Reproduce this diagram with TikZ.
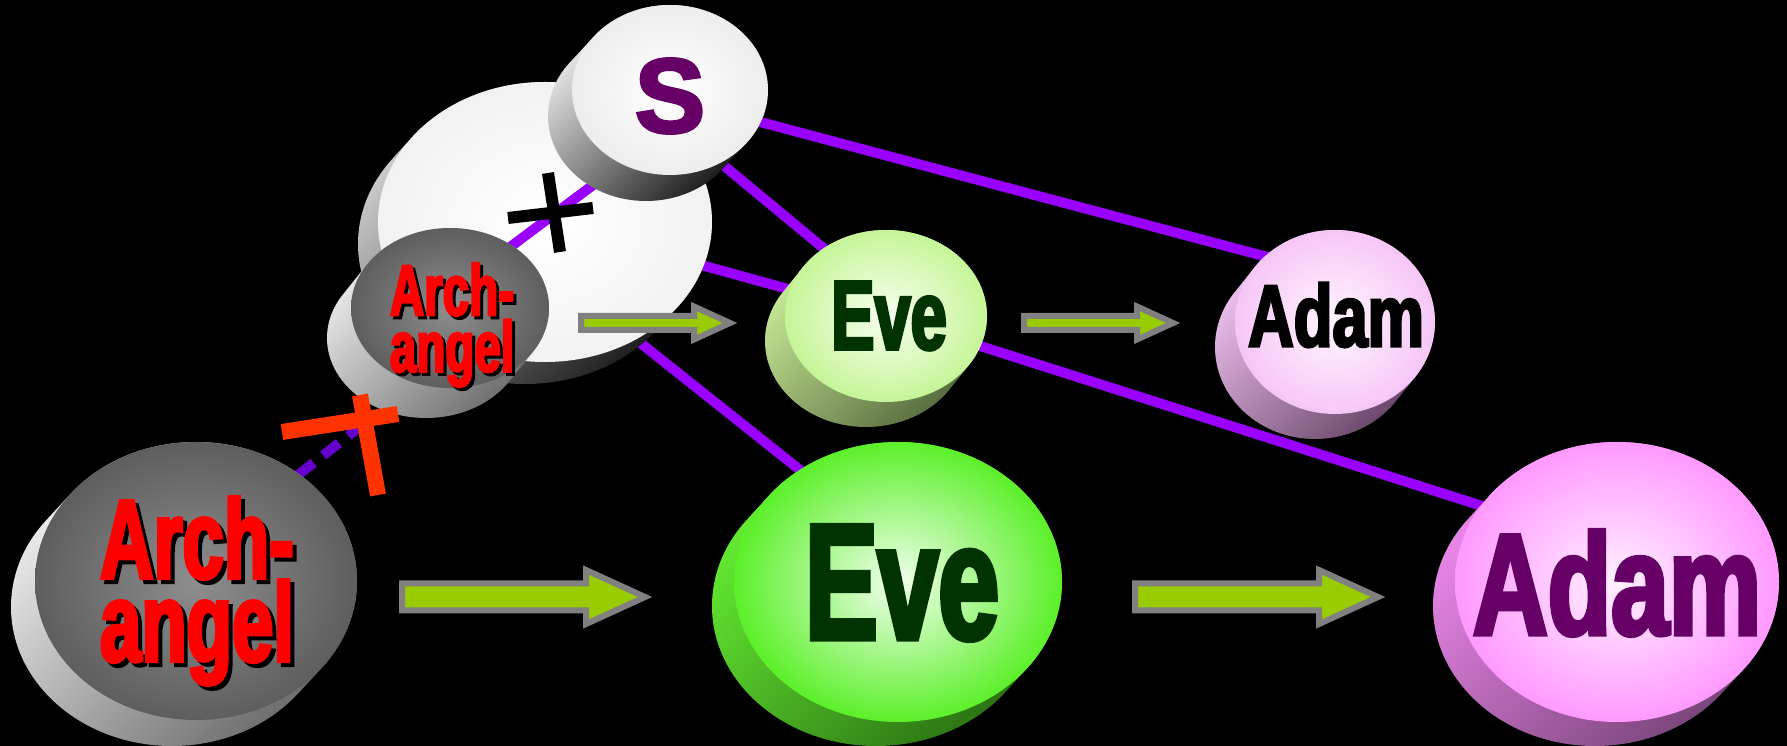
\documentclass[tikz,border=0pt]{standalone}
\usepackage{fontspec}
\setmainfont{Liberation Sans}
\newfontfamily\heavyfont{Liberation Sans Bold}[FakeStretch=0.66,FakeBold=3]
\newfontfamily\heavywide{Liberation Sans Bold}[FakeStretch=0.72,FakeBold=3]
\newfontfamily\blackfont{Liberation Sans Bold}[FakeBold=3]
\usetikzlibrary{calc}
\definecolor{linepurple}{HTML}{9900FF}
\definecolor{dashpurple}{HTML}{6600CC}
\definecolor{arrowgreen}{HTML}{99CC00}
\definecolor{arrowgray}{HTML}{808080}
\definecolor{archred}{HTML}{FF0000}
\definecolor{markred}{HTML}{FF3300}
\definecolor{evegreen}{HTML}{003300}
\definecolor{adampurple}{HTML}{660066}
% disc colours: side light/dark, face inner/outer
\definecolor{crossSideL}{HTML}{D0D0D0}  \definecolor{crossSideD}{HTML}{1A1A1A}
\definecolor{crossFaceO}{HTML}{F2F2F2}
\definecolor{sSideL}{HTML}{EEEEEE}      \definecolor{sSideD}{HTML}{111111}
\definecolor{sFaceO}{HTML}{EDEDED}
\definecolor{archSideL}{HTML}{EEEEEE}   \definecolor{archSideD}{HTML}{6A6A6A}
\definecolor{archFaceI}{HTML}{8E8E8E}   \definecolor{archFaceO}{HTML}{5E5E5E}
\definecolor{eveSSideL}{HTML}{CCEE99}   \definecolor{eveSSideD}{HTML}{55693C}
\definecolor{eveSFaceI}{HTML}{F8FFF0}   \definecolor{eveSFaceO}{HTML}{C6F598}
\definecolor{adamSSideL}{HTML}{F2C4F2}  \definecolor{adamSSideD}{HTML}{664466}
\definecolor{adamSFaceI}{HTML}{FFF6FF}  \definecolor{adamSFaceO}{HTML}{F6C6F6}
\definecolor{eveBSideL}{HTML}{66EE33}   \definecolor{eveBSideD}{HTML}{2A7012}
\definecolor{eveBFaceI}{HTML}{F2FFEE}   \definecolor{eveBFaceO}{HTML}{5CF02A}
\definecolor{adamBSideL}{HTML}{EE88EE}  \definecolor{adamBSideD}{HTML}{774477}
\definecolor{adamBFaceI}{HTML}{FFF0FF}  \definecolor{adamBFaceO}{HTML}{FF99FF}

\tikzset{
  link/.style={linepurple, line width=0.1cm},
  blockarrow/.style={draw=arrowgray, fill=arrowgreen, line width=0.06cm},
  discside/.style 2 args={shade, top color=#1, bottom color=#2, shading angle=45},
  discface/.style 2 args={shade, inner color=#1, outer color=#2},
  disctext/.style={inner sep=0pt, align=center},
  archbig/.style={disctext, font=\heavyfont\fontsize{32}{23.6}\selectfont},
  archsmall/.style={disctext, font=\heavyfont\fontsize{20.5}{14.2}\selectfont},
  evebig/.style={disctext, text=evegreen, font=\heavyfont\fontsize{47}{48}\selectfont},
  evesmall/.style={disctext, text=evegreen, font=\heavyfont\fontsize{28}{29}\selectfont},
  adambig/.style={disctext, text=adampurple, font=\heavywide\fontsize{41}{42}\selectfont},
  adamsmall/.style={disctext, text=black, font=\heavywide\fontsize{25}{26}\selectfont},
  sletter/.style={disctext, text=adampurple, font=\blackfont\fontsize{30}{30}\selectfont},
}

% #1 centre, #2/#3 radii, #4 thickness vector, #5 side, #6 top face
\newcommand{\disc}[6]{%
  \path[#5] \foreach \sweep in {0,0.125,...,1} {($(#1)+\sweep*(#4)$) ellipse [x radius=#2, y radius=#3]};
  \path[#6] (#1) ellipse [x radius=#2, y radius=#3];
}
% #1 start, #2 tip, #3 half shaft, #4 half head, #5 head length
\newcommand{\blockarrow}[5]{%
  \filldraw[blockarrow] ($(#1)+(0,-#3)$) -- ($(#2)+(-#5,-#3)$) -- ($(#2)+(-#5,-#4)$) -- (#2)
    -- ($(#2)+(-#5,#4)$) -- ($(#2)+(-#5,#3)$) -- ($(#1)+(0,#3)$) -- cycle;
}

\begin{document}
\begin{tikzpicture}[x=0.01cm, y=-0.01cm]
  \path[use as bounding box] (0,0) rectangle (1787,746);
  \fill[black] (0,0) rectangle (1787,746);

  \coordinate (archB) at (196,581);
  \coordinate (archS) at (450,308);
  \coordinate (cross) at (545,222);
  \coordinate (sD)    at (670,90);
  \coordinate (eveB)  at (898,582);
  \coordinate (eveS)  at (886,316);
  \coordinate (adamB) at (1617,582);
  \coordinate (adamS) at (1335,322);

  % links behind the discs
  \draw[link] ($(sD)+(0,8)$) -- ($(adamS)+(0,-47)$);
  \draw[link] ($(sD)+(0,31)$) -- ($(eveS)+(0,-16)$);
  \draw[link] (cross) -- (eveS);
  \draw[link] ($(archS)+(110,-29)$) -- ($(eveB)+(0,-34)$);
  \draw[link] (eveS) -- ($(adamB)+(0,-33)$);
  \draw[dashpurple, line width=0.1cm, dash pattern=on 0.2cm off 0.12cm]
    ($(archB)+(1,-27)$) -- ($(archS)+(-88,117)$);

  % upper group
  \disc{cross}{167}{140}{-20,22}{discside={crossSideL}{crossSideD}}{discface={white}{crossFaceO}}
  \draw[link] ($(archS)+(20,-31)$) -- ($(sD)+(-30,60)$);
  \draw[black, line width=0.12cm] (548,173) -- (560,252);
  \draw[black, line width=0.12cm] (508,218) -- (593,208);
  \disc{archS}{99}{80}{-24,30}{discside={archSideL}{archSideD}}{discface={archFaceI}{archFaceO}}
  \disc{sD}{98}{85}{-24,26}{discside={sSideL}{sSideD}}{discface={white}{sFaceO}}

  % lower row and the rest
  \disc{archB}{161}{139}{-24,26}{discside={archSideL}{archSideD}}{discface={archFaceI}{archFaceO}}
  \disc{eveS}{101}{86}{-20,25}{discside={eveSSideL}{eveSSideD}}{discface={eveSFaceI}{eveSFaceO}}
  \disc{adamS}{100}{92}{-20,25}{discside={adamSSideL}{adamSSideD}}{discface={adamSFaceI}{adamSFaceO}}
  \disc{eveB}{164}{140}{-22,24}{discside={eveBSideL}{eveBSideD}}{discface={eveBFaceI}{eveBFaceO}}
  \disc{adamB}{162}{140}{-22,24}{discside={adamBSideL}{adamBSideD}}{discface={adamBFaceI}{adamBFaceO}}

  % the crossed-out mark
  \draw[markred, line width=0.16cm] (282,432) -- (398,414);
  \draw[markred, line width=0.16cm] (360,395) -- (378,495);

  % labels
  \node[archbig, text=black]   (archBshadow) at ($(archB)+(5,14)$) {Arch-\\angel};
  \node[archbig, text=archred] (archBtext)   at ($(archB)+(1,10)$) {Arch-\\angel};
  \node[archsmall, text=black]   (archSshadow) at ($(archS)+(5,20)$) {Arch-\\angel};
  \node[archsmall, text=archred] (archStext)   at ($(archS)+(2,17)$) {Arch-\\angel};
  \node[sletter]   (sText)     at ($(sD)+(0,6)$) {S};
  \node[evesmall]  (eveStext)  at ($(eveS)+(3,0)$) {Eve};
  \node[adamsmall] (adamStext) at ($(adamS)+(1,-7)$) {Adam};
  \node[evebig]    (eveBtext)  at ($(eveB)+(4,1)$) {Eve};
  \node[adambig]   (adamBtext) at ($(adamB)+(0,1)$) {Adam};

  % arrows
  \coordinate (upA1) at (581,323);  \coordinate (upA1tip) at (730,323);
  \coordinate (upA2) at (1024,323); \coordinate (upA2tip) at (1173,323);
  \coordinate (loA1) at (402,597);  \coordinate (loA1tip) at (645,597);
  \coordinate (loA2) at (1135,597); \coordinate (loA2tip) at (1378,597);
  \blockarrow{upA1}{upA1tip}{7}{16.5}{36}
  \blockarrow{upA2}{upA2tip}{7}{16.5}{36}
  \blockarrow{loA1}{loA1tip}{13.5}{27}{59}
  \blockarrow{loA2}{loA2tip}{13.5}{27}{59}
\end{tikzpicture}
\end{document}
